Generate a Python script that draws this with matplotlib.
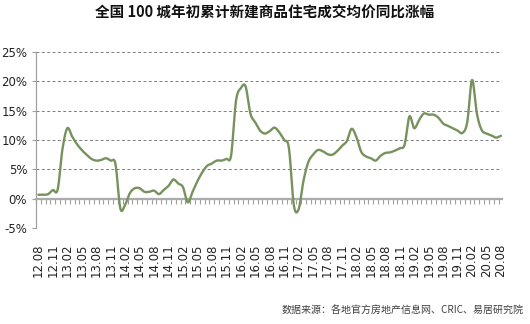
import numpy as np
import matplotlib
matplotlib.use("Agg")
import matplotlib.pyplot as plt
from matplotlib.ticker import FixedLocator, FuncFormatter

plt.rcParams['font.family'] = ['DejaVu Sans', 'Noto Sans CJK SC']

# Monthly periods, 2012.08 - 2020.08
months = [f"{(8 + k - 1) // 12 + 12:02d}.{(8 + k - 1) % 12 + 1:02d}" for k in range(97)]

# Year-to-date YoY change of new residential prices, 100 cities (%)
growth = [
    0.7, 0.7, 0.8, 1.5, 1.6, 8.5, 12.0, 10.6, 9.3, 8.3,
    7.5, 6.8, 6.5, 6.6, 6.9, 6.5, 5.9, -1.6, -1.0, 1.0,
    1.8, 1.8, 1.2, 1.2, 1.4, 0.8, 1.5, 2.2, 3.3, 2.6,
    2.0, -0.6, 1.2, 3.0, 4.5, 5.6, 6.0, 6.5, 6.5, 6.8,
    7.4, 16.6, 18.8, 19.1, 14.5, 13.0, 11.6, 11.1, 11.5, 12.1,
    11.3, 10.0, 8.6, -1.0, -1.8, 3.0, 6.2, 7.5, 8.3, 8.1,
    7.6, 7.5, 8.1, 9.0, 9.8, 11.9, 10.5, 8.0, 7.2, 6.9,
    6.5, 7.3, 7.8, 7.9, 8.2, 8.6, 9.2, 14.0, 12.0, 13.4,
    14.5, 14.3, 14.3, 13.8, 12.8, 12.4, 12.0, 11.6, 11.2, 13.0,
    20.2, 14.5, 11.7, 11.1, 10.8, 10.4, 10.7,
]

label_months = months[::3]
y_ticks = [-5, 0, 5, 10, 15, 20, 25]

title = "全国 100 城年初累计新建商品住宅成交均价同比涨幅"
source = "数据来源：各地官方房地产信息网、CRIC、易居研究院"


def smooth(xs, ys, n=12):
    """Cubic Bezier curve through the points (smoothed-line style)."""
    xs = np.asarray(xs, float)
    ys = np.asarray(ys, float)
    px = np.concatenate([[2 * xs[0] - xs[1]], xs, [2 * xs[-1] - xs[-2]]])
    py = np.concatenate([[ys[0]], ys, [ys[-1]]])
    out_x, out_y = [], []
    t = np.linspace(0, 1, n, endpoint=False)
    for i in range(1, len(px) - 2):
        for arr, out in ((px, out_x), (py, out_y)):
            p0, p1, p2, p3 = arr[i - 1], arr[i], arr[i + 1], arr[i + 2]
            c1 = p1 + (p2 - p0) / 6
            c2 = p2 - (p3 - p1) / 6
            out.extend((1 - t) ** 3 * p1 + 3 * (1 - t) ** 2 * t * c1
                       + 3 * (1 - t) * t ** 2 * c2 + t ** 3 * p2)
    out_x.append(xs[-1])
    out_y.append(ys[-1])
    return np.array(out_x), np.array(out_y)


fig = plt.figure(figsize=(5.30, 3.24), dpi=100)
ax = fig.add_axes([0.067, 0.2954, 0.880, 0.545])

x = np.arange(len(months))
sx, sy = smooth(x, growth)
ax.plot(sx, sy, color='#77925C', lw=1.7, solid_capstyle='round', zorder=3)

ax.set_xlim(-0.6, 96.2)
ax.set_ylim(-5, 25)

# horizontal dashed gridlines
for v in y_ticks:
    if v != 0:
        ax.axhline(v, color='#7F7F7F', lw=0.7, ls=(0, (3, 2.5)), zorder=1)

for s in ('top', 'right'):
    ax.spines[s].set_visible(False)
ax.spines['left'].set_color('#A0A0A0')
ax.spines['left'].set_linewidth(0.9)
ax.spines['bottom'].set_position(('data', 0))
ax.spines['bottom'].set_color('#ABABAB')
ax.spines['bottom'].set_linewidth(1.6)

ax.set_yticks(y_ticks)
ax.yaxis.set_major_formatter(FuncFormatter(lambda v, p: f"{v:.0f}%"))
ax.tick_params(axis='y', length=3, width=0.8, color='#A0A0A0', labelsize=8.5,
               labelcolor='#222222', pad=3)

# monthly ticks on the zero line
ax.xaxis.set_major_locator(FixedLocator(np.arange(-0.5, 96.6, 1)))
ax.tick_params(axis='x', which='major', length=3.5, width=0.8, color='#A0A0A0',
               direction='out', labelbottom=False)

# period labels along the bottom of the plot
sec = ax.secondary_xaxis('bottom')
sec.set_xticks(x[::3])
sec.set_xticklabels(label_months, rotation=90, fontsize=8.5, color='#222222')
sec.tick_params(length=0, pad=11)
sec.spines['bottom'].set_visible(False)

fig.text(0.5, 0.962, title, ha='center', va='center', fontsize=10.5,
         fontweight='bold', family=['Noto Sans CJK SC'], color='#111111')
fig.text(0.987, 0.04, source, ha='right', va='center', fontsize=7.2,
         family=['Noto Sans CJK SC'], color='#404040')

fig.savefig('out.png', dpi=100, facecolor='white')
